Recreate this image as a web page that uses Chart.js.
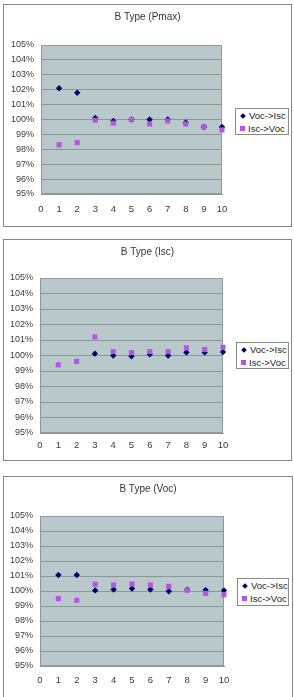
<!DOCTYPE html>
<html>
<head>
<meta charset="utf-8">
<script src="https://cdn.jsdelivr.net/npm/chart.js@4/dist/chart.umd.min.js"></script>
<style>
  html, body { margin: 0; padding: 0; background: #fff; }
  body { width: 294px; height: 697px; position: relative; overflow: hidden; font-family: "Liberation Sans", Arial, sans-serif; }
  .frame { position: absolute; border: 1px solid #858585; box-sizing: border-box; background: #fff; }
  .frame canvas { position: absolute; left: 0; top: 0; }
  .legend { position: absolute; border: 1px solid #8a8a8a; background: #fff; box-sizing: border-box; font-size: 9.5px; color: #222; line-height: 13px; padding: 0 0 0 4px; }
  .legend .row { white-space: nowrap; height: 13px; display: flex; align-items: center; }
  .mk { display: inline-block; margin-right: 3px; }
  .mk.dia { width: 4px; height: 4px; background: #000066; transform: rotate(45deg); margin-left: 1px; margin-right: 4px; }
  .mk.sq { width: 5px; height: 5px; background: #b455e6; }
</style>
</head>
<body>
<script>
// ---- data ----
const xValues = [1, 2, 3, 4, 5, 6, 7, 8, 9, 10];
const xTicks = [0, 1, 2, 3, 4, 5, 6, 7, 8, 9, 10];
const yTicks = [95, 96, 97, 98, 99, 100, 101, 102, 103, 104, 105];
const seriesNames = ["Voc->Isc", "Isc->Voc"];
const chartTitles = ["B Type (Pmax)", "B Type (Isc)", "B Type (Voc)"];

const pmaxVocIsc = [102.1, 101.8, 100.1, 99.9, 100.0, 100.0, 100.0, 99.8, 99.5, 99.5];
const pmaxIscVoc = [98.3, 98.45, 99.95, 99.75, 100.0, 99.7, 99.9, 99.7, 99.5, 99.3];

const iscVocIsc = [null, null, 100.12, 100.0, 99.95, 100.08, 100.0, 100.2, 100.2, 100.22];
const iscIscVoc = [99.4, 99.62, 101.2, 100.25, 100.18, 100.25, 100.25, 100.49, 100.38, 100.53];

const vocVocIsc = [101.07, 101.07, 100.04, 100.1, 100.17, 100.1, 99.98, 100.08, 100.06, 100.04];
const vocIscVoc = [99.49, 99.38, 100.45, 100.4, 100.47, 100.4, 100.31, 100.06, 99.84, 99.75];

// ---- layout (page pixels) ----
const layouts = [
  { frame: [3, 4, 289, 223], plot: [41, 45, 222, 194], titleY: 17, xPad: 10, legend: [235, 108, 54, 27], series: [pmaxVocIsc, pmaxIscVoc] },
  { frame: [3, 239, 289, 222], plot: [40, 278, 223, 433], titleY: 252, xPad: 7, legend: [236, 342, 53, 27], series: [iscVocIsc, iscIscVoc] },
  { frame: [3, 476, 290, 240], plot: [40, 516, 224, 666], titleY: 489, xPad: 9, legend: [237, 578, 52, 28], series: [vocVocIsc, vocIscVoc] }
];

const FONT = '"Liberation Sans", Arial, sans-serif';
const plotBg = {
  id: 'plotBg',
  beforeDraw(chart) {
    const a = chart.chartArea, ctx = chart.ctx;
    ctx.save();
    ctx.fillStyle = '#b9c8cb';
    ctx.fillRect(a.left, a.top, a.right - a.left, a.bottom - a.top);
    ctx.restore();
  },
  beforeDatasetsDraw(chart) {
    const a = chart.chartArea, ctx = chart.ctx;
    ctx.save();
    ctx.strokeStyle = '#8e9b9e';
    ctx.lineWidth = 1;
    ctx.strokeRect(a.left + 0.5, a.top + 0.5, a.right - a.left - 1, a.bottom - a.top - 1);
    ctx.restore();
  }
};

layouts.forEach((L, i) => {
  const [fx, fy, fw, fh] = L.frame;
  const frame = document.createElement('div');
  frame.className = 'frame';
  Object.assign(frame.style, { left: fx + 'px', top: fy + 'px', width: fw + 'px', height: fh + 'px' });
  document.body.appendChild(frame);

  const cx = fx + 1, cy = fy + 1;
  const cw = fw - 2, ch = Math.min(fh - 2, 697 - cy);
  const canvas = document.createElement('canvas');
  canvas.width = cw; canvas.height = ch;
  canvas.style.width = cw + 'px'; canvas.style.height = ch + 'px';
  frame.appendChild(canvas);

  const [pl, pt, pr, pb] = L.plot;
  const yAxisW = pl - cx;
  const rightW = cx + cw - pr;
  const topSpace = pt - cy;
  const xAxisH = cy + ch - pb;
  const titleTop = L.titleY - cy - 6;
  const titleBottom = topSpace - titleTop - 12;

  new Chart(canvas, {
    type: 'scatter',
    data: {
      datasets: [
        {
          label: seriesNames[0],
          data: xValues.map((x, k) => ({ x: x, y: L.series[0][k] })),
          pointStyle: 'rectRot', pointRadius: 3.2, pointBorderWidth: 0,
          backgroundColor: '#000066', borderColor: '#000066', order: 2, clip: false
        },
        {
          label: seriesNames[1],
          data: xValues.map((x, k) => ({ x: x, y: L.series[1][k] })),
          pointStyle: 'rect', pointRadius: 3.6, pointBorderWidth: 0,
          backgroundColor: '#b455e6', borderColor: '#b455e6', order: 1, clip: false
        }
      ]
    },
    options: {
      responsive: false,
      animation: false,
      devicePixelRatio: 1,
      layout: { padding: 0 },
      plugins: {
        legend: { display: false },
        tooltip: { enabled: false },
        title: {
          display: true, text: chartTitles[i], color: '#333',
          font: { family: FONT, size: 10, weight: 'normal', lineHeight: 1.2 },
          padding: { top: titleTop, bottom: titleBottom }
        }
      },
      scales: {
        x: {
          type: 'linear', min: xTicks[0], max: xTicks[xTicks.length - 1],
          ticks: { stepSize: 1, color: '#3a3a3a', padding: L.xPad, font: { family: FONT, size: 9.5 } },
          grid: { display: false, drawTicks: false },
          border: { display: true, color: '#8e9b9e' },
          afterFit(s) { s.height = xAxisH; }
        },
        y: {
          type: 'linear', min: yTicks[0], max: yTicks[yTicks.length - 1],
          ticks: { stepSize: 1, color: '#3a3a3a', padding: 7, font: { family: FONT, size: 9 }, callback: v => v + '%' },
          grid: { color: '#8a9799', lineWidth: 1, drawTicks: false },
          border: { display: false },
          afterFit(s) { s.width = yAxisW; }
        },
        yRight: {
          type: 'linear', position: 'right', display: true,
          ticks: { display: false }, grid: { display: false, drawTicks: false }, border: { display: false },
          afterFit(s) { s.width = rightW; }
        }
      }
    },
    plugins: [plotBg]
  });

  const [lx, ly, lw, lh] = L.legend;
  const lg = document.createElement('div');
  lg.className = 'legend';
  Object.assign(lg.style, { left: lx + 'px', top: ly + 'px', width: lw + 'px', height: lh + 'px' });
  lg.innerHTML = '<div class="row"><span class="mk dia"></span>' + seriesNames[0] + '</div>' +
                 '<div class="row"><span class="mk sq"></span>' + seriesNames[1] + '</div>';
  document.body.appendChild(lg);
});
</script>
</body>
</html>
